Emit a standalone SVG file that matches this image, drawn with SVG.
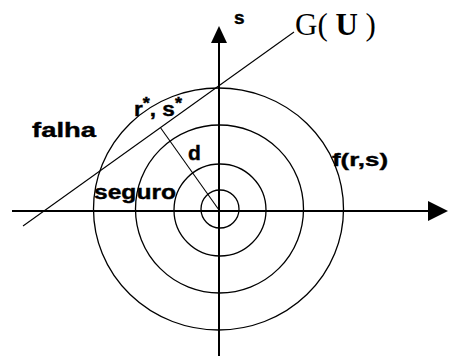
<svg xmlns="http://www.w3.org/2000/svg" width="470" height="356" viewBox="0 0 470 356">
<style>
.ax{stroke:#000;stroke-width:2;fill:none}
.c{stroke:#000;stroke-width:1.3;fill:none}
.ln{stroke:#000;stroke-width:1.1;fill:none}
.lb{font-family:"Liberation Sans",Arial,sans-serif;font-weight:bold;fill:#000;stroke:#000;stroke-width:0.4}
.tm{font-family:"Liberation Serif","Times New Roman",serif;fill:#000}
</style>
<rect width="470" height="356" fill="#fff"/>
<g id="circles">
<circle class="c" cx="220" cy="209" r="19"/>
<circle class="c" cx="220" cy="210" r="46"/>
<ellipse class="c" cx="219.5" cy="209" rx="84" ry="84"/>
<ellipse class="c" cx="218.5" cy="209" rx="125" ry="121"/>
</g>
<g id="axes">
<line class="ax" x1="12" y1="211" x2="430" y2="211"/>
<polygon points="428,201 448,211 428,221" fill="#000"/>
<line class="ax" x1="219" y1="40" x2="219" y2="356"/>
<polygon points="219,26 211,43 227,43" fill="#000"/>
</g>
<g id="lines">
<line class="ln" x1="23" y1="226" x2="294" y2="32"/>
<line class="ln" x1="160.7" y1="128" x2="219" y2="210"/>
</g>
<g id="labels">
<text class="lb" x="234" y="24" font-size="19">s</text>
<text class="tm" x="295" y="35" font-size="31">G(<tspan font-weight="bold"> U</tspan> )</text>
<text class="lb" x="32" y="137" font-size="21" textLength="64" lengthAdjust="spacingAndGlyphs">falha</text>
<text class="lb" x="134" y="116" font-size="20" textLength="48" lengthAdjust="spacingAndGlyphs">r<tspan dy="-7" font-size="16">*</tspan><tspan dy="7">, s</tspan><tspan dy="-7" font-size="16">*</tspan></text>
<text class="lb" x="188" y="160" font-size="21">d</text>
<text class="lb" x="332" y="166" font-size="19" textLength="56" lengthAdjust="spacingAndGlyphs">f(r,s)</text>
<text class="lb" x="94" y="199" font-size="20" textLength="82" lengthAdjust="spacingAndGlyphs">seguro</text>
</g>
</svg>
